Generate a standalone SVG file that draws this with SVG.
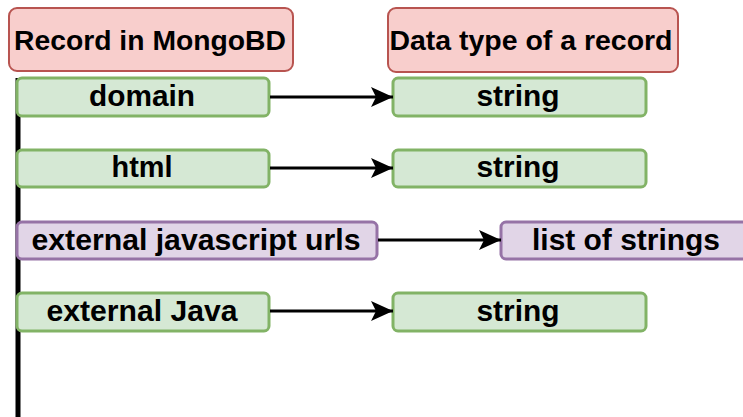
<svg xmlns="http://www.w3.org/2000/svg" width="743" height="417" viewBox="0 0 743 417">
<defs>
<style>
.t{font-family:"Liberation Sans",Arial,Helvetica,sans-serif;font-weight:bold;fill:#000;text-anchor:middle}
.title{font-size:27px}
.item{font-size:30px}
.red{fill:#f8cecc;stroke:#b85450;stroke-width:2}
.green{fill:#d5e8d4;stroke:#82b366;stroke-width:3}
.purple{fill:#e1d5e7;stroke:#9673a6;stroke-width:3}
.edge{fill:none;stroke:#000;stroke-width:3}
</style>
<marker id="arr" markerUnits="userSpaceOnUse" markerWidth="24" markerHeight="22" refX="22" refY="11" orient="auto">
<path d="M22,11 L0,1 L5,11 L0,21 Z" fill="#000"/>
</marker>
</defs>
<rect width="743" height="417" fill="#fff"/>
<g id="spine"><line x1="18" y1="78" x2="18" y2="417" stroke="#000" stroke-width="5"/></g>
<g id="title-record"><rect class="red" x="9" y="8" width="284" height="63" rx="8"/><text class="t title" x="150" y="50" textLength="272" lengthAdjust="spacingAndGlyphs">Record in MongoBD</text></g>
<g id="title-type"><rect class="red" x="388" y="8" width="290" height="64" rx="8"/><text class="t title" x="531" y="50" textLength="283" lengthAdjust="spacingAndGlyphs">Data type of a record</text></g>
<g id="domain"><rect class="green" x="17" y="78" width="252" height="38" rx="5"/><text class="t item" x="142" y="106" textLength="106" lengthAdjust="spacingAndGlyphs">domain</text></g>
<g id="html"><rect class="green" x="17" y="150" width="252" height="37" rx="5"/><text class="t item" x="142" y="177" textLength="61" lengthAdjust="spacingAndGlyphs">html</text></g>
<g id="extjs"><rect class="purple" x="17" y="222" width="360" height="37" rx="5"/><text class="t item" x="196" y="250" textLength="329" lengthAdjust="spacingAndGlyphs">external javascript urls</text></g>
<g id="extjava"><rect class="green" x="17" y="293" width="252" height="38" rx="5"/><text class="t item" x="142" y="321" textLength="191" lengthAdjust="spacingAndGlyphs">external Java</text></g>
<g id="type-domain"><rect class="green" x="393" y="78" width="253" height="38" rx="5"/><text class="t item" x="518" y="106" textLength="83" lengthAdjust="spacingAndGlyphs">string</text></g>
<g id="type-html"><rect class="green" x="393" y="150" width="253" height="37" rx="5"/><text class="t item" x="518" y="177" textLength="83" lengthAdjust="spacingAndGlyphs">string</text></g>
<g id="type-extjs"><rect class="purple" x="501" y="222" width="250" height="37" rx="5"/><text class="t item" x="626" y="250" textLength="188" lengthAdjust="spacingAndGlyphs">list of strings</text></g>
<g id="type-extjava"><rect class="green" x="393" y="293" width="253" height="38" rx="5"/><text class="t item" x="518" y="321" textLength="83" lengthAdjust="spacingAndGlyphs">string</text></g>
<g id="connectors">
<line class="edge" x1="270" y1="97" x2="393" y2="97" marker-end="url(#arr)"/>
<line class="edge" x1="270" y1="168" x2="393" y2="168" marker-end="url(#arr)"/>
<line class="edge" x1="378" y1="240" x2="501" y2="240" marker-end="url(#arr)"/>
<line class="edge" x1="270" y1="311" x2="393" y2="311" marker-end="url(#arr)"/>
</g>
</svg>
